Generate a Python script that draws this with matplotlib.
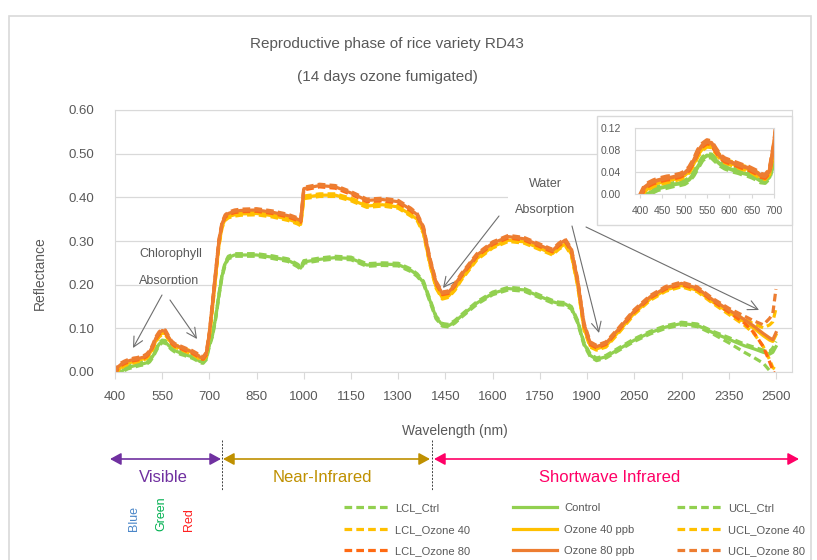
import matplotlib
matplotlib.use("Agg")
import matplotlib.pyplot as plt
from matplotlib.patches import Rectangle
from matplotlib.ticker import FormatStrFormatter
from matplotlib.transforms import Bbox, TransformedBbox
import numpy as np

plt.rcParams['font.family'] = ['Liberation Sans', 'DejaVu Sans']

W, H = 817, 560
GREY = '#595959'
LINE = '#D9D9D9'


def P(x, y):
    # pixel position in the picture -> figure fraction
    return (x / W, 1 - y / H)


# Wavelength knots (nm)
wl = [400, 410, 420, 430, 440, 450, 460, 470, 480, 490, 500, 510, 520, 530, 540, 550,
      560, 570, 580, 590, 600, 610, 620, 630, 640, 650, 660, 670, 680, 690, 700,
      710, 720, 730, 740, 750, 760, 780, 800, 850, 900, 950, 980, 990, 1000,
      1050, 1100, 1150, 1200, 1250, 1300, 1340, 1360, 1380, 1400, 1420, 1440, 1460,
      1480, 1500, 1550, 1600, 1650, 1700, 1750, 1790, 1810, 1830, 1850, 1870, 1890,
      1910, 1930, 1960, 2000, 2050, 2100, 2150, 2200, 2250, 2300, 2350, 2400, 2430,
      2460, 2480, 2490, 2500]

# mean reflectance per treatment
control = [-0.010, -0.004, 0.001, 0.006, 0.010, 0.012, 0.014, 0.016, 0.018, 0.019, 0.021,
           0.026, 0.036, 0.050, 0.064, 0.070, 0.069, 0.061, 0.054, 0.049, 0.046, 0.043,
           0.041, 0.038, 0.036, 0.033, 0.029, 0.024, 0.023, 0.031, 0.062,
           0.085, 0.125, 0.175, 0.220, 0.248, 0.262, 0.268, 0.268, 0.268, 0.263, 0.256,
           0.244, 0.238, 0.252,
           0.258, 0.262, 0.260, 0.245, 0.247, 0.246, 0.233, 0.222, 0.205, 0.165, 0.125,
           0.108, 0.106, 0.115, 0.128, 0.158, 0.180, 0.191, 0.188, 0.173, 0.161, 0.157,
           0.156, 0.147, 0.115, 0.065, 0.038, 0.029, 0.035, 0.052, 0.073, 0.090, 0.103,
           0.111, 0.107, 0.090, 0.075, 0.060, 0.053, 0.045, 0.041, 0.045, 0.058]

ozone40 = [-0.010, 0.004, 0.012, 0.017, 0.020, 0.022, 0.024, 0.026, 0.028, 0.030, 0.034,
           0.042, 0.055, 0.072, 0.083, 0.089, 0.088, 0.077, 0.066, 0.060, 0.057, 0.054,
           0.051, 0.048, 0.046, 0.042, 0.037, 0.032, 0.030, 0.039, 0.085,
           0.150, 0.220, 0.290, 0.333, 0.350, 0.356, 0.360, 0.362, 0.363, 0.358, 0.350,
           0.342, 0.338, 0.400,
           0.405, 0.405, 0.395, 0.380, 0.383, 0.378, 0.360, 0.350, 0.320, 0.250, 0.195,
           0.170, 0.174, 0.190, 0.213, 0.260, 0.287, 0.302, 0.298, 0.283, 0.271, 0.284,
           0.293, 0.270, 0.200, 0.100, 0.060, 0.053, 0.060, 0.092, 0.135, 0.167, 0.188,
           0.198, 0.187, 0.160, 0.137, 0.115, 0.100, 0.083, 0.073, 0.070, 0.085]

ozone80 = [-0.005, 0.012, 0.018, 0.022, 0.025, 0.027, 0.029, 0.030, 0.032, 0.034, 0.038,
           0.046, 0.060, 0.078, 0.089, 0.095, 0.093, 0.080, 0.068, 0.062, 0.059, 0.056,
           0.053, 0.050, 0.048, 0.044, 0.040, 0.034, 0.032, 0.042, 0.090,
           0.160, 0.230, 0.300, 0.340, 0.357, 0.363, 0.368, 0.370, 0.371, 0.366, 0.358,
           0.350, 0.346, 0.420,
           0.427, 0.424, 0.410, 0.393, 0.395, 0.390, 0.372, 0.360, 0.330, 0.260, 0.205,
           0.180, 0.183, 0.200, 0.222, 0.268, 0.295, 0.310, 0.305, 0.290, 0.278, 0.292,
           0.302, 0.280, 0.210, 0.110, 0.066, 0.058, 0.066, 0.098, 0.140, 0.172, 0.193,
           0.203, 0.192, 0.165, 0.142, 0.120, 0.105, 0.088, 0.078, 0.074, 0.090]

# distance of the lower / upper confidence limits from the mean
ctrl_lo = [0.003] * 81 + [0.008, 0.015, 0.020, 0.025, 0.038, 0.050, 0.070]
ctrl_hi = [0.003] * 81 + [0.004, 0.004, 0.004, 0.005, 0.006, 0.010, 0.012]
oz40_lo = [0.003] * 81 + [0.005, 0.008, 0.012, 0.025, 0.045, 0.060, 0.080]
oz40_hi = [0.003] * 81 + [0.004, 0.006, 0.010, 0.018, 0.035, 0.045, 0.060]
oz80_lo = [0.003] * 81 + [0.005, 0.008, 0.015, 0.030, 0.055, 0.070, 0.100]
oz80_hi = [0.003] * 81 + [0.004, 0.008, 0.012, 0.020, 0.045, 0.060, 0.100]

x = np.array(wl)
series = [
    # label, mean, lo, hi, colour, lcl colour, lcl label, ucl label
    ('Control', control, ctrl_lo, ctrl_hi, '#92D050', '#92D050', 'LCL_Ctrl', 'UCL_Ctrl'),
    ('Ozone 40 ppb', ozone40, oz40_lo, oz40_hi, '#FFC000', '#FFC000', 'LCL_Ozone 40', 'UCL_Ozone 40'),
    ('Ozone 80 ppb', ozone80, oz80_lo, oz80_hi, '#ED7D31', '#FF6A13', 'LCL_Ozone 80', 'UCL_Ozone 80'),
]


def draw_lines(a, lw):
    out = {}
    for name, m, lo, hi, col, lcol, lname, uname in series:
        m = np.array(m)
        dash = (0, (2.4, 1.3))
        out[lname], = a.plot(x, m - np.array(lo), color=lcol, lw=lw, ls=dash, label=lname)
        out[uname], = a.plot(x, m + np.array(hi), color=col, lw=lw, ls=dash, label=uname)
        out[name], = a.plot(x, m, color=col, lw=lw, label=name)
    return out


fig = plt.figure(figsize=(W / 100, H / 100), dpi=100)
fig.patch.set_facecolor('white')

# outer chart border
fig.add_artist(Rectangle((9 / W, -0.02), (811 - 9) / W, 1 - 16 / H + 0.02, transform=fig.transFigure,
                         fill=False, edgecolor=LINE, lw=1.2))

# main plot
ax = fig.add_axes([115 / W, 1 - 372 / H, (792 - 115) / W, (372 - 110) / H])
handles = draw_lines(ax, 2.3)
ax.set_xlim(400, 2551)
ax.set_ylim(0, 0.6)
ax.set_xticks(range(400, 2501, 150))
ax.set_yticks(np.arange(0, 0.61, 0.1))
ax.yaxis.set_major_formatter(FormatStrFormatter('%.2f'))
ax.grid(axis='y', color=LINE, lw=0.9)
ax.set_axisbelow(True)
for s in ax.spines.values():
    s.set_color(LINE)
ax.tick_params(axis='x', length=5, color=LINE, pad=9, labelsize=9.5, labelcolor=GREY)
ax.tick_params(axis='y', length=0, pad=15, labelsize=9.5, labelcolor=GREY)

fig.text(*P(387, 44), 'Reproductive phase of rice variety RD43', ha='center', va='center',
         fontsize=11, color=GREY)
fig.text(*P(387, 77), '(14 days ozone fumigated)', ha='center', va='center', fontsize=11, color=GREY)
fig.text(*P(40, 273), 'Reflectance', ha='center', va='center', rotation=90, fontsize=10, color=GREY)
fig.text(*P(455, 431), 'Wavelength (nm)', ha='center', va='center', fontsize=10, color=GREY)

# annotations
arr = dict(arrowstyle='->,head_length=0.7,head_width=0.35', color='#6E6E6E', lw=0.8,
           shrinkA=0, shrinkB=0)
fig.text(*P(139, 254), 'Chlorophyll', ha='left', va='center', fontsize=9, color=GREY)
t = fig.text(*P(139, 281), 'Absorption', ha='left', va='center', fontsize=9, color=GREY)
t.set_clip_box(TransformedBbox(Bbox([[0, 1 - 284 / H], [1, 1]]), fig.transFigure))
t.set_clip_on(True)
ax.annotate('', xy=P(133, 348), xytext=P(162, 295), xycoords='figure fraction', arrowprops=arr)
ax.annotate('', xy=P(197, 339), xytext=P(170, 300), xycoords='figure fraction', arrowprops=arr)

fig.add_artist(Rectangle(P(508, 222), 89 / W, 52 / H, transform=fig.transFigure,
                         facecolor='white', edgecolor='none', zorder=0.5))
fig.text(*P(545, 184), 'Water', ha='center', va='center', fontsize=9, color=GREY, zorder=0.6)
fig.text(*P(545, 210), 'Absorption', ha='center', va='center', fontsize=9, color=GREY, zorder=0.6)
ax.annotate('', xy=P(443, 288), xytext=P(499, 216), xycoords='figure fraction', arrowprops=arr)
ax.annotate('', xy=P(599, 333), xytext=P(572, 226), xycoords='figure fraction', arrowprops=arr)
ax.annotate('', xy=P(759, 310), xytext=P(586, 227), xycoords='figure fraction', arrowprops=arr)

# inset for the visible region
fig.add_artist(Rectangle(P(597, 225), (792 - 597) / W, (225 - 116) / H, transform=fig.transFigure,
                         facecolor='white', edgecolor=LINE, lw=1, zorder=1))
ins = fig.add_axes([635 / W, 1 - 194 / H, (774 - 635) / W, (194 - 128) / H])
ins.set_zorder(2)
draw_lines(ins, 2.8)
ins.set_xlim(389, 700)
ins.set_ylim(0, 0.12)
ins.set_xticks(range(400, 701, 50))
ins.set_yticks([0, 0.04, 0.08, 0.12])
ins.yaxis.set_major_formatter(FormatStrFormatter('%.2f'))
ins.grid(axis='y', color=LINE, lw=0.9)
ins.set_axisbelow(True)
for s in ins.spines.values():
    s.set_color(LINE)
ins.tick_params(axis='x', length=3, color=LINE, pad=6, labelsize=7.5, labelcolor=GREY)
ins.tick_params(axis='y', length=0, pad=10, labelsize=7.5, labelcolor=GREY)

# spectral regions under the axis
regions = [('Visible', 110, 221, '#7030A0', 163),
           ('Near-Infrared', 223, 430, '#BF9000', 322),
           ('Shortwave Infrared', 434, 799, '#FF0066', 610)]
for name, x0, x1, col, xt in regions:
    fig.add_artist(matplotlib.patches.FancyArrowPatch(
        P(x0, 459), P(x1, 459), transform=fig.transFigure,
        arrowstyle='<|-|>,head_length=0.55,head_width=0.3', mutation_scale=12,
        color=col, lw=1.2, shrinkA=0, shrinkB=0))
    fig.text(*P(xt, 478), name, ha='center', va='center', fontsize=12, color=col)
for xd in (222, 432):
    fig.add_artist(matplotlib.lines.Line2D([xd / W, xd / W], [1 - 440 / H, 1 - 491 / H],
                                           transform=fig.transFigure, color='#404040',
                                           lw=0.7, ls=(0, (2, 1.5))))

for name, xc, col in [('Blue', 134, '#4A86C8'), ('Green', 161, '#00B050'), ('Red', 189, '#FF2020')]:
    fig.text(*P(xc, 531), name, rotation=90, ha='center', va='bottom', fontsize=9, color=col)

order = ['LCL_Ctrl', 'LCL_Ozone 40', 'LCL_Ozone 80', 'Control', 'Ozone 40 ppb', 'Ozone 80 ppb',
         'UCL_Ctrl', 'UCL_Ozone 40', 'UCL_Ozone 80']
fig.legend([handles[k] for k in order], order, ncol=3, loc='upper left',
           bbox_to_anchor=P(344, 503), frameon=False, fontsize=8, labelcolor=GREY,
           handlelength=4.0, handletextpad=0.6, columnspacing=3.85, labelspacing=1.05,
           borderaxespad=0, borderpad=0)

fig.savefig('out.png', dpi=100)
